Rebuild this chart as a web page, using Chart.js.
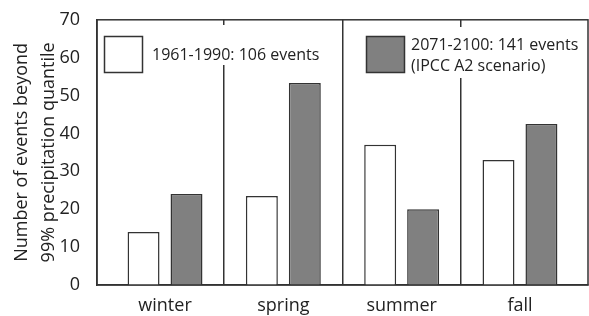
<!DOCTYPE html>
<html>
<head>
<meta charset="utf-8">
<script src="https://cdn.jsdelivr.net/npm/chart.js@4.4.1/dist/chart.umd.min.js"></script>
<style>html,body{margin:0;padding:0;background:#fff}</style>
</head>
<body>
<canvas id="chart" width="589" height="316"></canvas>
<script>
// seasons and event counts
const seasons = ["winter", "spring", "summer", "fall"];
const past = [14, 23.5, 37, 33];
const future = [24, 53.3, 20, 42.5];
const pastLabel = ["1961-1990: 106 events"];
const futureLabel = ["2071-2100: 141 events", "(IPCC A2 scenario)"];
const yTitle = ["Number of events beyond", "99% precipitation quantile"];

const FONT = "'Open Sans', sans-serif";
const INK = "#222";
const LINE = "#333";

// frame round the plot + the legend boxes inside it
const framePlugin = {
  id: "frame",
  afterDatasetsDraw(chart) {
    const { ctx, chartArea: a } = chart;
    ctx.save();
    ctx.font = "16px " + FONT;
    ctx.textBaseline = "middle";
    ctx.textAlign = "left";
    //white patches behind legend text (they hide the season lines)
    ctx.fillStyle = "#fff";
    ctx.fillRect(150, 25, 172, 40);
    ctx.fillRect(407, 27, 178, 51);
    ctx.lineWidth = 1.5;
    ctx.strokeStyle = LINE;
    ctx.fillStyle = "#fff";
    ctx.fillRect(104.5, 36.5, 38, 36);
    ctx.strokeRect(104.5, 36.5, 38, 36);
    ctx.fillStyle = "#808080";
    ctx.fillRect(366.5, 36.5, 38, 36);
    ctx.strokeRect(366.5, 36.5, 38, 36);
    ctx.fillStyle = INK;
    ctx.fillText(pastLabel[0], 152, 55);
    ctx.fillText(futureLabel[0], 411, 45);
    ctx.fillText(futureLabel[1], 411, 66);
    // box
    ctx.strokeStyle = LINE;
    ctx.lineWidth = 1.5;
    ctx.strokeRect(a.left, a.top, a.right - a.left, a.bottom - a.top);
    ctx.restore();
  }
};

new Chart(document.getElementById("chart"), {
  type: "bar",
  plugins: [framePlugin],
  data: {
    datasets: [
      {
        label: pastLabel[0],
        data: past.map((v, i) => ({ x: i, y: v })),
        backgroundColor: "#ffffff",
        borderColor: LINE,
        borderWidth: 1.5
      },
      {
        label: futureLabel.join(" "),
        data: future.map((v, i) => ({ x: i, y: v })),
        backgroundColor: "#808080",
        borderColor: LINE,
        borderWidth: 1.5
      }
    ]
  },
  options: {
    responsive: false,
    animation: false,
    // half-step ticks halve the ruler, so the percentage is doubled
    categoryPercentage: 1.452,
    barPercentage: 0.744,
    layout: { padding: { top: 17, right: 1, left: 0, bottom: 0 } },
    plugins: {
      legend: { display: false },
      tooltip: { enabled: false }
    },
    scales: {
      x: {
        type: "linear",
        min: -0.575,
        max: 3.575,
        offset: false,
        afterBuildTicks: (s) => {
          s.ticks = [0, 0.5, 1, 1.5, 2, 2.5, 3].map(v => ({ value: v }));
        },
        afterFit: (s) => { s.height = 31; },
        ticks: {
          autoSkip: false,
          maxRotation: 0,
          padding: 10,
          color: INK,
          font: { family: FONT, size: 18 },
          callback: (v) => Number.isInteger(v) ? seasons[v] : ""
        },
        grid: {
          offset: false,
          drawTicks: false,
          lineWidth: 1.5,
          color: (c) => (c.tick && c.tick.value % 1 !== 0) ? LINE : "rgba(0,0,0,0)"
        },
        border: { color: LINE, width: 1.5 }
      },
      y: {
        min: 0,
        max: 70,
        afterFit: (s) => { s.width = 97; },
        ticks: {
          stepSize: 10,
          padding: 9,
          color: INK,
          font: { family: FONT, size: 18 }
        },
        grid: { display: false },
        border: { color: LINE, width: 1.5 },
        title: {
          display: true,
          text: yTitle,
          color: INK,
          font: { family: FONT, size: 18, lineHeight: 1.5 },
          padding: { top: 8, bottom: 0 }
        }
      }
    }
  }
});
</script>
</body>
</html>
